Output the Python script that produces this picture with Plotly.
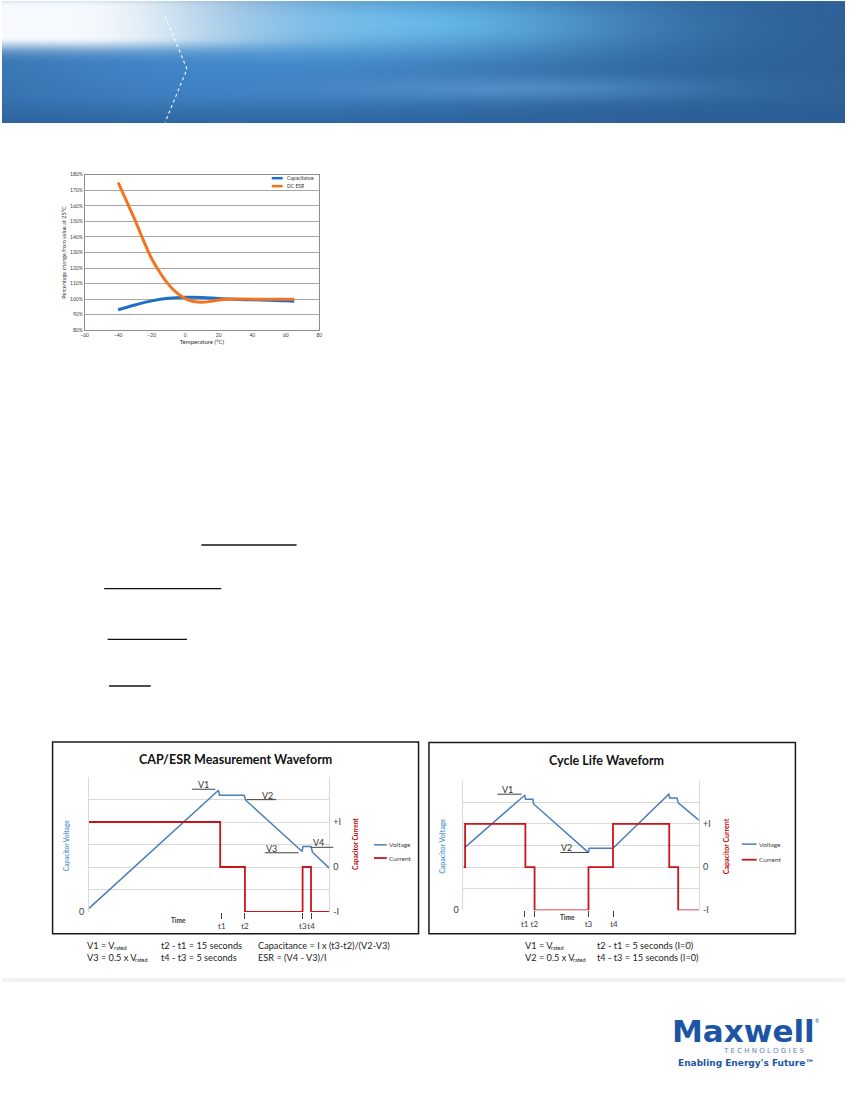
import numpy as np
import plotly.graph_objects as go

W, H = 850, 1100

# --- temperature chart data ---
cap_temp = [-40, -30, -20, -10, 0, 10, 20, 30, 40, 50, 60, 65]
cap_pct = [93.2, 96.3, 98.9, 100.6, 101.3, 101.1, 100.4, 99.9, 99.6, 99.3, 99.0, 98.7]
esr_temp = [-40, -35, -30, -25, -20, -15, -10, -5, 0, 5, 10, 15, 20, 25, 30, 40, 50, 60, 65]
esr_pct = [175, 163, 151, 138, 126, 117, 109.5, 104, 100.4, 98.5, 98.0, 98.6, 99.5, 100, 100.1, 100, 100, 100, 100]

# --- CAP/ESR measurement waveform (time 0-100, voltage in grid units 0-6) ---
cap_v_time = [0, 53.9, 54.3, 64.6, 65.2, 88.7, 89.0, 92.4, 93.0, 100]
cap_v = [0.16, 5.41, 5.19, 5.19, 4.97, 2.69, 2.91, 2.91, 2.66, 1.95]
cap_i_time = [0, 54.6, 64.9, 88.9, 92.4, 100]
cap_i = [1, 0, -1, 0, -1, -1]
cap_t_ticks = [55.3, 64.9, 89.0, 92.4]

# --- cycle life waveform ---
cyc_v_time = [0.5, 26.0, 26.4, 29.5, 29.8, 53.1, 53.4, 63.5, 87.2, 87.6, 90.7, 91.2, 100]
cyc_v = [2.9, 5.32, 5.14, 5.14, 4.92, 2.67, 2.87, 2.87, 5.37, 5.2, 5.2, 4.97, 4.17]
cyc_i_time = [0, 0.7, 26.3, 30.2, 53.1, 63.5, 87.4, 91.2, 100]
cyc_i = [0, 1, 0, -1, 0, 1, 0, -1, -1]
cyc_t_ticks = [26.0, 30.1, 53.1, 63.9]

t_labels = ["t1", "t2", "t3", "t4"]
v_grid = [1, 2, 3, 4, 5, 6]
i_ticks = [-1, 0, 1]
i_labels = ["-I", "0", "+I"]

BLUE_V = "#4A7EBB"
RED_I = "#C8141B"
FONT = "Lato"


def px(x):
    return x / W


def py(y):
    return 1 - y / H


# banner gradient
BH = 123
yy, xx = np.mgrid[0:BH, 0:W].astype(float)
img = np.zeros((BH, W, 3)) + np.array([45, 95, 150])


def blend(base, col, w):
    return base * (1 - w[..., None]) + np.array(col) * w[..., None]


img = blend(img, [66, 136, 203], 0.9 * np.exp(-((xx - 230) / 340) ** 2 - ((yy - 65) / 75) ** 2))
img = blend(img, [100, 185, 235], 0.95 * np.exp(-((xx - 400) / 230) ** 2 - ((yy - 22) / 32) ** 2))
img = blend(img, [110, 172, 228], 0.45 * np.exp(-((xx - 520) / 190) ** 2 - ((yy - 88) / 12) ** 2))
glow = np.exp(-(np.maximum(xx - 70, 0) / 200) ** 2) * np.exp(-(np.maximum(np.abs(yy - 20) - 15, 0) / 13) ** 2)
img = blend(img, [246, 250, 254], glow)
img = blend(img, [40, 92, 150], 0.5 * np.clip((yy - 98) / 25, 0, 1))
img = np.clip(img, 0, 255).astype(np.uint8)

fig = go.Figure()
fig.add_trace(go.Image(z=img, xaxis="x6", yaxis="y6", hoverinfo="skip"))

# temperature chart
fig.add_trace(go.Scatter(x=cap_temp, y=cap_pct, mode="lines", name="Capacitance",
                         line=dict(color="#1F6FC6", width=3, shape="spline"), xaxis="x", yaxis="y"))
fig.add_trace(go.Scatter(x=esr_temp, y=esr_pct, mode="lines", name="DC ESR",
                         line=dict(color="#F47320", width=3, shape="spline"), xaxis="x", yaxis="y"))

# waveforms
fig.add_trace(go.Scatter(x=cap_v_time, y=cap_v, mode="lines", name="Voltage",
                         line=dict(color=BLUE_V, width=1.5), xaxis="x2", yaxis="y2"))
fig.add_trace(go.Scatter(x=cap_i_time, y=cap_i, mode="lines", name="Current",
                         line=dict(color=RED_I, width=1.8, shape="hv"), xaxis="x2", yaxis="y3"))
fig.add_trace(go.Scatter(x=cyc_v_time, y=cyc_v, mode="lines", name="Voltage",
                         line=dict(color=BLUE_V, width=1.5), xaxis="x4", yaxis="y4"))
fig.add_trace(go.Scatter(x=cyc_i_time, y=cyc_i, mode="lines", name="Current",
                         line=dict(color=RED_I, width=1.8, shape="hv"), xaxis="x4", yaxis="y5"))

tick_font = dict(family=FONT, size=9, color="#404040")


def wave_axes(xdom, ydom, ticks):
    xa = dict(domain=xdom, range=[0, 100], tickvals=ticks, ticktext=t_labels, tickangle=0,
              ticks="outside", ticklen=6, tickcolor="#404040", showgrid=False,
              zeroline=False, showline=False, tickfont=dict(family=FONT, size=8, color="#404040"),
              fixedrange=True)
    ya = dict(domain=ydom, range=[0, 6], tickvals=[0], ticktext=["0"],
              showgrid=True, gridcolor="#D9D9D9", gridwidth=1, showline=True,
              linecolor="#D9D9D9", mirror=True, zeroline=False, tickfont=tick_font,
              minor=dict(tickvals=v_grid, showgrid=True, gridcolor="#D9D9D9", gridwidth=1, ticks=""),
              ticklabelstandoff=2, fixedrange=True)
    yb = dict(range=[-1, 2], tickvals=i_ticks, ticktext=i_labels, side="right",
              showgrid=False, zeroline=False, showline=False, tickfont=tick_font,
              ticklabelstandoff=3, fixedrange=True)
    return xa, ya, yb


xa2, ya2, ya3 = wave_axes([px(87.7), px(330)], [py(917.7), py(781.7)], cap_t_ticks)
ya2["anchor"] = "x2"
xa2["anchor"] = "y2"
ya3.update(overlaying="y2", anchor="x2")
xa4, ya4, ya5 = wave_axes([px(465.3), px(702.7)], [py(916), py(785.3)], cyc_t_ticks)
ya4["anchor"] = "x4"
xa4["anchor"] = "y4"
ya5.update(overlaying="y4", anchor="x4")

small_font = dict(family=FONT, size=5, color="#404040")

fig.update_layout(
    width=W, height=H, autosize=False,
    margin=dict(l=0, r=0, t=0, b=0),
    paper_bgcolor="white", plot_bgcolor="white",
    showlegend=False,
    font=dict(family=FONT, color="#404040"),
    xaxis=dict(domain=[px(83.3), px(320)], range=[-60, 80], dtick=20, anchor="y",
               showgrid=False, zeroline=False, showline=True, mirror=True,
               linecolor="#8C8C8C", linewidth=0.8, ticks="", tickfont=small_font,
               title=dict(text="Temperature (°C)", font=dict(family=FONT, size=6, color="#303030"),
                          standoff=2), fixedrange=True),
    yaxis=dict(domain=[py(331.7), py(175)], range=[80, 180], dtick=10, ticksuffix="%",
               anchor="x", showgrid=True, gridcolor="#A6A6A6", gridwidth=0.7,
               zeroline=False, showline=True, mirror=True, linecolor="#8C8C8C",
               linewidth=0.8, ticks="", tickfont=small_font,
               title=dict(text="Percentage change from value at 25°C",
                          font=dict(family=FONT, size=5.5, color="#303030"), standoff=3),
               fixedrange=True),
    xaxis2=xa2, yaxis2=ya2, yaxis3=ya3,
    xaxis4=xa4, yaxis4=ya4, yaxis5=ya5,
    xaxis6=dict(domain=[0, 1], range=[-0.5, W - 0.5], visible=False, anchor="y6", fixedrange=True),
    yaxis6=dict(domain=[py(BH), 1], range=[BH - 0.5, -0.5], visible=False, anchor="x6", fixedrange=True),
)

shapes = []
annotations = []


def pline(x0, y0, x1, y1, color="#000000", width=1.0, dash="solid"):
    shapes.append(dict(type="line", xref="paper", yref="paper", x0=px(x0), y0=py(y0),
                       x1=px(x1), y1=py(y1), line=dict(color=color, width=width, dash=dash)))


def text(x, y, s, size=9, color="#333333", anchor="left", bold=False, angle=0, family=FONT, valign="middle"):
    if bold:
        s = "<b>" + s + "</b>"
    annotations.append(dict(x=px(x), y=py(y), xref="paper", yref="paper", text=s,
                            showarrow=False, xanchor=anchor, yanchor=valign, textangle=angle,
                            font=dict(family=family, size=size, color=color)))


# banner dotted chevron
shapes.append(dict(type="path", xref="x6", yref="y6", path="M164,15 L186,68 L164,122",
                   line=dict(color="rgba(255,255,255,0.9)", width=1.2, dash="dot")))

# temperature chart legend
pline(272, 178.5, 283, 178.5, "#1F6FC6", 2.5)
text(285, 178.5, "Capacitance", size=5, color="#303030")
pline(272, 186.5, 283, 186.5, "#F47320", 2.5)
text(285, 186.5, "DC ESR", size=5, color="#303030")

# underlines in text block
pline(201, 548, 297, 548, "#111111", 1.3)
pline(103, 592, 221, 592, "#111111", 1.3)
pline(106.5, 643, 186.5, 643, "#111111", 1.3)
pline(108, 690, 150, 690, "#111111", 1.3)

# waveform boxes
shapes.append(dict(type="rect", xref="paper", yref="paper", x0=px(51), x1=px(420), y0=py(939.5),
                   y1=py(746.5), line=dict(color="#1A1A1A", width=1.5)))
shapes.append(dict(type="rect", xref="paper", yref="paper", x0=px(430.5), x1=px(800), y0=py(939.5),
                   y1=py(747), line=dict(color="#1A1A1A", width=1.5)))

# left waveform labels
text(235, 764, "CAP/ESR Measurement Waveform", size=12.5, color="#111111", anchor="center", bold=True)
text(65, 850, "Capacitor Voltage", size=6.5, color="#5B9BD5", anchor="center", bold=True, angle=-90)
text(357, 849, "Capacitor Current", size=6.5, color="#C00000", anchor="center", bold=True, angle=-90)
text(196, 789, "V1", size=9)
pline(191.5, 794, 215, 794, "#404040", 1)
text(260, 800, "V2", size=9)
pline(246.5, 804.5, 276.5, 804.5, "#404040", 1)
text(264, 853.5, "V3", size=9)
pline(265, 858, 299, 858, "#404040", 1)
text(312, 848, "V4", size=9)
pline(311.5, 852.5, 334, 852.5, "#404040", 1)
text(178, 926, "Time", size=6.5, color="#303030", anchor="center", bold=True)
pline(375, 850, 388, 850, BLUE_V, 1.5)
text(388, 850, "Voltage", size=6.5, color="#404040")
pline(375, 863.3, 388, 863.3, RED_I, 1.8)
text(388, 863.3, "Current", size=6.5, color="#404040")

# right waveform labels
text(610, 765.5, "Cycle Life Waveform", size=12.5, color="#111111", anchor="center", bold=True)
text(443, 851.7, "Capacitor Voltage", size=7, color="#5B9BD5", anchor="center", bold=True, angle=-90)
text(729.7, 851.7, "Capacitor Current", size=7, color="#C00000", anchor="center", bold=True, angle=-90)
text(502, 794, "V1", size=9)
pline(499.5, 799, 524, 799, "#404040", 1)
text(561.5, 852.5, "V2", size=9)
pline(563, 857.7, 591.3, 857.7, "#404040", 1)
text(570, 923.5, "Time", size=6.5, color="#303030", anchor="center", bold=True)
pline(746, 849.3, 761, 849.3, BLUE_V, 1.5)
text(761, 849.3, "Voltage", size=6.5, color="#404040")
pline(746, 865, 761, 865, RED_I, 1.8)
text(761, 865, "Current", size=6.5, color="#404040")

# captions (subscript "rated" drawn as its own small text)
cap_color = "#222222"
CS = 9.2


def caption_v(x, y, s, sub_dx):
    text(x, y, s, size=CS, color=cap_color)
    text(x + sub_dx, y + 2.5, "rated", size=5.5, color=cap_color)


caption_v(84, 951, "V1 = V", 27)
text(158, 951, "t2 - t1 = 15 seconds", size=CS, color=cap_color)
text(256, 951, "Capacitance = I x (t3-t2)/(V2-V3)", size=CS, color=cap_color)
caption_v(84, 963.5, "V3 = 0.5 x V", 48.5)
text(158, 963.5, "t4 - t3 = 5 seconds", size=CS, color=cap_color)
text(256, 963.5, "ESR = (V4 - V3)/I", size=CS, color=cap_color)
caption_v(525, 951, "V1 = V", 27)
text(598, 951, "t2 - t1 = 5 seconds (I=0)", size=CS, color=cap_color)
caption_v(525, 963.5, "V2 = 0.5 x V", 48.5)
text(598, 963.5, "t4 - t3 = 15 seconds (I=0)", size=CS, color=cap_color)

# footer band
shapes.append(dict(type="rect", xref="paper", yref="paper", x0=0, x1=1, y0=py(988), y1=py(984.5),
                   line=dict(width=0), fillcolor="#EEF1F7"))

# logo
LOGO = "#1D55A5"
text(748, 1037.5, "Maxwell", size=31, color=LOGO, anchor="center", bold=True, family="DejaVu Sans")
text(822, 1027, "®", size=5, color=LOGO, anchor="center")
text(768, 1057.5, "T E C H N O L O G I E S", size=7, color="#5B7FBE", anchor="center", family="DejaVu Sans")
text(750, 1070, "Enabling Energy's Future™", size=9, color=LOGO, anchor="center", bold=True,
     family="DejaVu Sans")

fig.update_layout(shapes=shapes, annotations=annotations)

pin_page = (
    "document.body.style.margin='0';"
    "document.body.style.overflow='hidden';"
    "var d=document.getElementById('{plot_id}');"
    "d.style.position='absolute';d.style.left='-2px';d.style.top='-2px';"
)
fig.write_html("out.html", config={"displayModeBar": False}, post_script=pin_page)
